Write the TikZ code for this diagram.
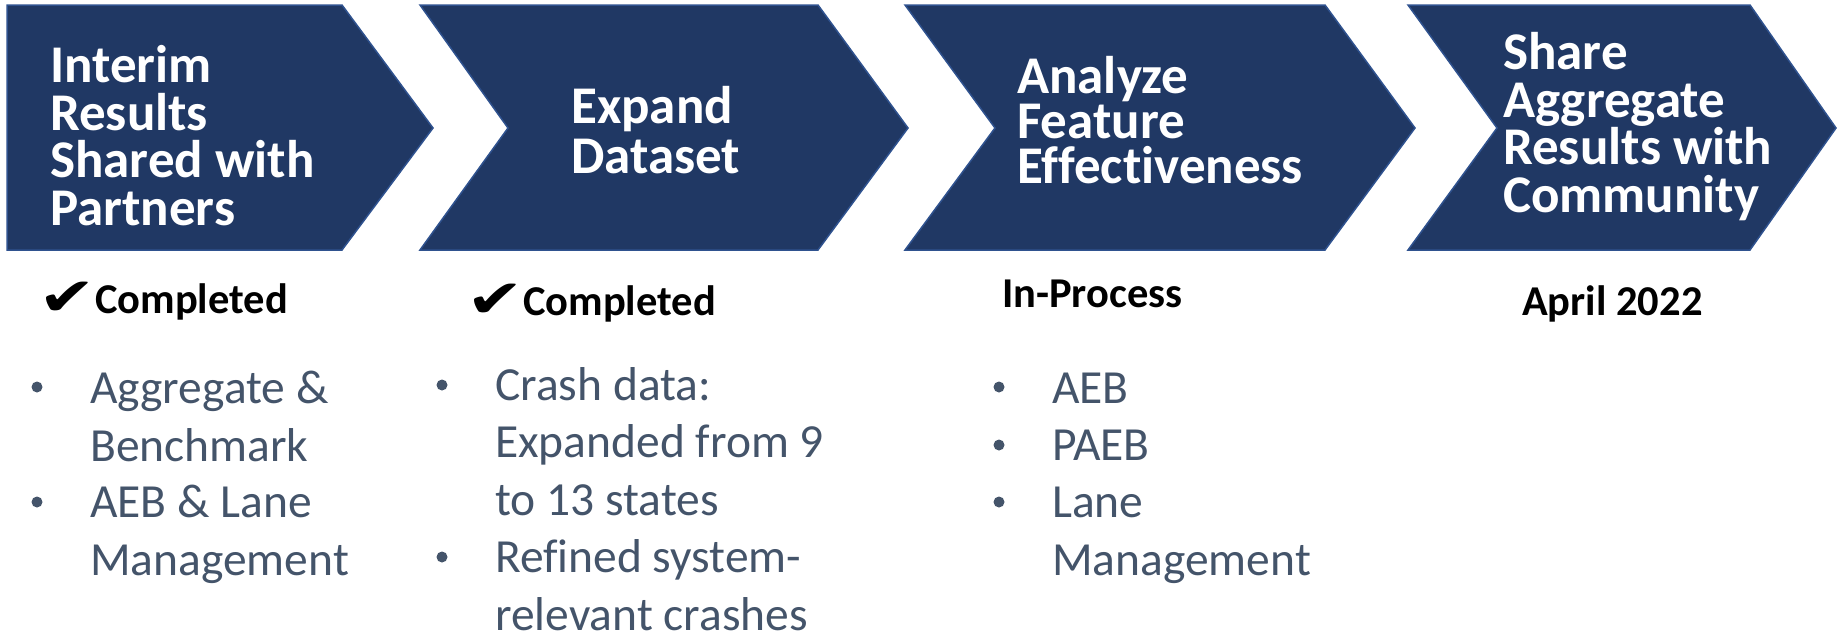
\documentclass[tikz,border=0pt]{standalone}
\usepackage{fontspec}
\setmainfont{Carlito}[Ligatures=NoCommon]
\newfontfamily\dejavu{DejaVu Sans}[FakeStretch=1.3]
\definecolor{navy}{RGB}{32,56,100}
\definecolor{navyedge}{RGB}{47,82,143}
\definecolor{slate}{RGB}{68,84,106}
\tikzset{
  chev/.style={fill=navy, draw=navyedge, line width=1.5pt, line join=miter},
  title/.style={text=white, font=\bfseries\fontsize{53}{47.5}\selectfont, align=left, anchor=base west, inner sep=0pt},
  status/.style={text=black, font=\bfseries\fontsize{42.5}{48}\selectfont, anchor=base west, inner sep=0pt},
  tick/.style={text=black, font=\dejavu\fontsize{53}{60}\selectfont, anchor=base west, inner sep=0pt},
  item/.style={text=slate, font=\fontsize{47.5}{57.5}\selectfont, align=left, anchor=base west, inner sep=0pt},
  dot/.style={circle, fill=slate, inner sep=0pt, minimum size=11pt},
}
\begin{document}
\begin{tikzpicture}[x=1pt,y=-1pt]
\useasboundingbox (0,0) rectangle (1837,635);
% chevrons
\draw[chev] (7,5) -- (342,5) -- (433,128) -- (342,250) -- (7,250) -- cycle;
\draw[chev] (420,5) -- (818,5) -- (908,128) -- (818,250) -- (420,250) -- (508,128) -- cycle;
\draw[chev] (905,5) -- (1325,5) -- (1415,128) -- (1325,250) -- (905,250) -- (995,128) -- cycle;
\draw[chev] (1408,5) -- (1750,5) -- (1836,128) -- (1750,250) -- (1408,250) -- (1497,128) -- cycle;
% titles (anchor = baseline of last line)
\node[title] (t1) at (50,225) {Interim\\Results\\Shared with\\Partners};
\node[title, font=\bfseries\fontsize{53}{50}\selectfont] (t2) at (571,173) {Expand\\Dataset};
\node[title, font=\bfseries\fontsize{53}{45}\selectfont] (t3) at (1017,183) {Analyze\\Feature\\Effectiveness};
\node[title] (t4) at (1503,212) {Share\\Aggregate\\Results with\\Community};
% status
\node[tick] (k1) at (38,315) {✔};
\node[status] (s1) at (95,313) {Completed};
\node[tick] (k2) at (466,317) {✔};
\node[status] (s2) at (523,315) {Completed};
\node[status] (s3) at (1002,307) {In-Process};
\node[status] (s4) at (1522,315) {April 2022};
% column 1
\node[dot] (d11) at (37,387) {};
\node[dot] (d12) at (37,502) {};
\node[item] (i11) at (90,461) {Aggregate \&\\Benchmark};
\node[item] (i12) at (90,575) {AEB \& Lane\\Management};
% column 2
\node[dot] (d21) at (442,385) {};
\node[dot] (d22) at (442,557) {};
\node[item] (i21) at (495,515) {Crash data:\\Expanded from 9\\to 13 states};
\node[item] (i22) at (495,630) {Refined system-\\relevant crashes};
% column 3
\node[dot] (d31) at (999,387) {};
\node[dot] (d32) at (999,445) {};
\node[dot] (d33) at (999,502) {};
\node[item] (i31) at (1052,403) {AEB};
\node[item] (i32) at (1052,460) {PAEB};
\node[item] (i33) at (1052,575) {Lane\\Management};
\end{tikzpicture}
\end{document}
